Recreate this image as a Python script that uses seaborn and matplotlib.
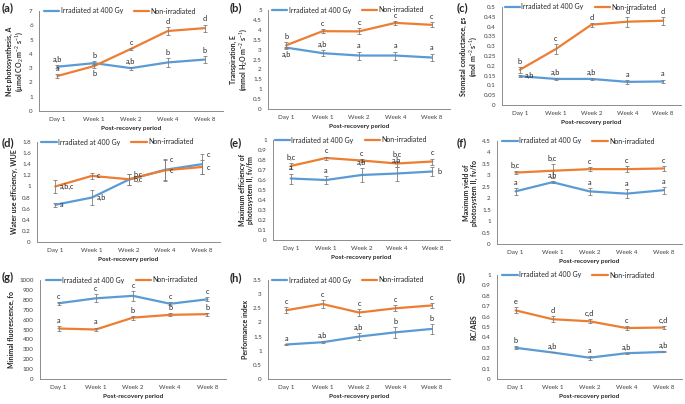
import numpy as np
import pandas as pd
import matplotlib
matplotlib.use("Agg")
import matplotlib.pyplot as plt
import seaborn as sns
from matplotlib.ticker import MultipleLocator, FuncFormatter

periods = ["Day 1", "Week 1", "Week 2", "Week 4", "Week 8"]
series_names = ["Irradiated at 400 Gy", "Non-irradiated"]

# (a) net photosynthesis
a_irr = [3.1, 3.35, 3.0, 3.4, 3.6]
a_irr_err = [0.1, 0.15, 0.1, 0.3, 0.25]
a_non = [2.45, 3.15, 4.35, 5.6, 5.8]
a_non_err = [0.12, 0.15, 0.05, 0.25, 0.25]
a_irr_lab = ["a,b", "b", "a,b", "b", "b"]
a_non_lab = ["a", "b", "c", "d", "d"]

# (b) transpiration
b_irr = [3.1, 2.82, 2.7, 2.7, 2.6]
b_irr_err = [0.05, 0.15, 0.2, 0.2, 0.2]
b_non = [3.22, 3.93, 3.92, 4.35, 4.25]
b_non_err = [0.15, 0.1, 0.15, 0.1, 0.12]
b_irr_lab = ["a,b", "a,b", "a", "a", "a"]
b_non_lab = ["b", "c", "c", "c", "c"]

# (c) stomatal conductance
c_irr = [0.147, 0.133, 0.133, 0.118, 0.12]
c_irr_err = [0.005, 0.005, 0.005, 0.01, 0.01]
c_non = [0.18, 0.285, 0.41, 0.425, 0.43]
c_non_err = [0.015, 0.025, 0.01, 0.025, 0.02]
c_irr_lab = ["a,b", "a,b", "a,b", "a", "a"]
c_non_lab = ["b", "c", "d", "d", "d"]

# (d) water use efficiency
d_irr = [0.67, 0.8, 1.12, 1.3, 1.4]
d_irr_err = [0.04, 0.14, 0.1, 0.18, 0.18]
d_non = [1.0, 1.19, 1.13, 1.29, 1.35]
d_non_err = [0.12, 0.05, 0.1, 0.2, 0.12]
d_irr_lab = ["a", "a,b", "b,c", "c", "c"]
d_non_lab = ["a,b,c", "c", "b,c", "c", "c"]

# (e) fv/fm
e_irr = [0.615, 0.6, 0.65, 0.665, 0.685]
e_irr_err = [0.05, 0.04, 0.07, 0.07, 0.045]
e_non = [0.74, 0.82, 0.795, 0.765, 0.785]
e_non_err = [0.03, 0.015, 0.015, 0.03, 0.03]
e_irr_lab = ["a", "a", "a,b", "a,b", "b"]
e_non_lab = ["b,c", "c", "c", "b,c", "c"]

# (f) fv/fo
f_irr = [2.3, 2.7, 2.3, 2.2, 2.35]
f_irr_err = [0.15, 0.05, 0.15, 0.2, 0.15]
f_non = [3.12, 3.2, 3.27, 3.27, 3.3]
f_non_err = [0.05, 0.3, 0.1, 0.12, 0.12]
f_irr_lab = ["a", "a,b", "a", "a", "a"]
f_non_lab = ["b,c", "b,c", "c", "c", "c"]

# (g) minimal fluorescence
g_irr = [765, 815, 840, 760, 805]
g_irr_err = [15, 40, 50, 15, 20]
g_non = [510, 500, 620, 648, 655]
g_non_err = [25, 20, 20, 15, 15]
g_irr_lab = ["c", "c", "c", "c", "c"]
g_non_lab = ["a", "a", "b", "b", "b"]

# (h) performance index
h_irr = [1.22, 1.3, 1.5, 1.65, 1.77]
h_irr_err = [0.02, 0.03, 0.12, 0.2, 0.17]
h_non = [2.43, 2.65, 2.35, 2.5, 2.6]
h_non_err = [0.1, 0.13, 0.12, 0.1, 0.1]
h_irr_lab = ["a", "a,b", "a,b", "b", "b"]
h_non_lab = ["c", "c", "c", "c", "c"]

# (i) RC/ABS
i_irr = [0.3, 0.255, 0.205, 0.248, 0.26]
i_irr_err = [0.015, 0.0, 0.02, 0.005, 0.005]
i_non = [0.66, 0.575, 0.555, 0.49, 0.495]
i_non_err = [0.03, 0.03, 0.02, 0.015, 0.015]
i_irr_lab = ["b", "a,b", "a", "a,b", "a,b"]
i_non_lab = ["e", "d", "c,d", "c", "c,d"]

BLUE = "#5B9BD5"
ORANGE = "#ED7D31"
W, H = 685, 404
COLS = [0, 228, 455]
ROWS = [0, 135, 270]

# where the letters go: u = above, d = below, r = right, ru = right and higher
panels = [
    dict(tag="(a)", cell=(0, 0), box=(39, 11, 223, 111), ymax=7, step=1,
         ylabel="Net photosynthesis, A\n(µmol CO$_2$ m$^{-2}$ s$^{-1}$)",
         irr=a_irr, irr_err=a_irr_err, non=a_non, non_err=a_non_err,
         irr_lab=a_irr_lab, non_lab=a_non_lab,
         irr_pos=["u"] * 5, non_pos=["u", "d", "u", "u", "u"]),
    dict(tag="(b)", cell=(1, 0), box=(268, 10, 450, 109), ymax=5, step=0.5,
         ylabel="Transpiration, E\n(mmol H$_2$O m$^{-2}$ s$^{-1}$)",
         irr=b_irr, irr_err=b_irr_err, non=b_non, non_err=b_non_err,
         irr_lab=b_irr_lab, non_lab=b_non_lab,
         irr_pos=["d", "u", "u", "u", "u"], non_pos=["u"] * 5),
    dict(tag="(c)", cell=(2, 0), box=(502, 7, 681, 105), ymax=0.5, step=0.05,
         ylabel="Stomatal conductance, gs\n(mol m$^{-2}$ s$^{-1}$)",
         irr=c_irr, irr_err=c_irr_err, non=c_non, non_err=c_non_err,
         irr_lab=c_irr_lab, non_lab=c_non_lab,
         irr_pos=["ru", "u", "u", "u", "u"], non_pos=["u"] * 5),
    dict(tag="(d)", cell=(0, 1), box=(37, 142, 220, 242), ymax=1.8, step=0.2,
         ylabel="Water use efficiency, WUE",
         irr=d_irr, irr_err=d_irr_err, non=d_non, non_err=d_non_err,
         irr_lab=d_irr_lab, non_lab=d_non_lab,
         irr_pos=["r", "r", "ru", "ru", "ru"], non_pos=["r"] * 5),
    dict(tag="(e)", cell=(1, 1), box=(273, 140, 450, 240), ymax=1, step=0.1,
         ylabel="Maximum efficiency of\nphotosystem II, fv/fm",
         irr=e_irr, irr_err=e_irr_err, non=e_non, non_err=e_non_err,
         irr_lab=e_irr_lab, non_lab=e_non_lab,
         irr_pos=["u", "u", "u", "u", "r"], non_pos=["u"] * 5),
    dict(tag="(f)", cell=(2, 1), box=(497, 141, 682, 244), ymax=4.5, step=0.5,
         ylabel="Maximum yield of\nphotosystem II, fv/fo",
         irr=f_irr, irr_err=f_irr_err, non=f_non, non_err=f_non_err,
         irr_lab=f_irr_lab, non_lab=f_non_lab,
         irr_pos=["u"] * 5, non_pos=["u"] * 5),
    dict(tag="(g)", cell=(0, 2), box=(40, 280, 226, 379), ymax=1000, step=100,
         ylabel="Minimal fluorescence, fo",
         irr=g_irr, irr_err=g_irr_err, non=g_non, non_err=g_non_err,
         irr_lab=g_irr_lab, non_lab=g_non_lab,
         irr_pos=["u"] * 5, non_pos=["u"] * 5),
    dict(tag="(h)", cell=(1, 2), box=(268, 280, 450, 379), ymax=3.5, step=0.5,
         ylabel="Performance index",
         irr=h_irr, irr_err=h_irr_err, non=h_non, non_err=h_non_err,
         irr_lab=h_irr_lab, non_lab=h_non_lab,
         irr_pos=["u"] * 5, non_pos=["u"] * 5),
    dict(tag="(i)", cell=(2, 2), box=(497, 275, 682, 379), ymax=1, step=0.1,
         ylabel="RC/ABS",
         irr=i_irr, irr_err=i_irr_err, non=i_non, non_err=i_non_err,
         irr_lab=i_irr_lab, non_lab=i_non_lab,
         irr_pos=["u"] * 5, non_pos=["u"] * 5),
]

sns.set_theme(style="white")
plt.rcParams["font.family"] = ["Lato", "DejaVu Sans"]
plt.rcParams["mathtext.fontset"] = "custom"
plt.rcParams["mathtext.rm"] = "Lato"
plt.rcParams["mathtext.it"] = "Lato:italic"
plt.rcParams["mathtext.bf"] = "Lato:bold"

fig = plt.figure(figsize=(W / 100, H / 100), dpi=100)
fig.patch.set_facecolor("white")

xs = np.arange(len(periods))
LAB_FS = 5.3


def put_letters(ax, vals, errs, labs, where):
    for x, v, e, t, p in zip(xs, vals, errs, labs, where):
        if p == "u":
            ax.annotate(t, (x, v + e), xytext=(0, 1.5), textcoords="offset points",
                        ha="center", va="bottom", fontsize=LAB_FS, color="#262626")
        elif p == "d":
            ax.annotate(t, (x, v - e), xytext=(0, -1.5), textcoords="offset points",
                        ha="center", va="top", fontsize=LAB_FS, color="#262626")
        elif p == "r":
            ax.annotate(t, (x, v), xytext=(3.5, 0), textcoords="offset points",
                        ha="left", va="center", fontsize=LAB_FS, color="#262626")
        else:
            ax.annotate(t, (x, v + e), xytext=(3.5, 0), textcoords="offset points",
                        ha="left", va="center", fontsize=LAB_FS, color="#262626")


for p in panels:
    l, t, r, b = p["box"]
    ax = fig.add_axes([l / W, 1 - b / H, (r - l) / W, (b - t) / H])

    df = pd.DataFrame({
        "pos": np.concatenate([xs, xs]),
        "value": p["irr"] + p["non"],
        "series": [series_names[0]] * 5 + [series_names[1]] * 5,
    })
    sns.lineplot(data=df, x="pos", y="value", hue="series", hue_order=series_names,
                 palette=[BLUE, ORANGE], linewidth=1.6, ax=ax, legend=True)
    ax.errorbar(xs, p["irr"], yerr=p["irr_err"], fmt="none", ecolor="#7f7f7f",
                elinewidth=0.6, capsize=1.6, capthick=0.6, zorder=3)
    ax.errorbar(xs, p["non"], yerr=p["non_err"], fmt="none", ecolor="#7f7f7f",
                elinewidth=0.6, capsize=1.6, capthick=0.6, zorder=3)

    put_letters(ax, p["irr"], p["irr_err"], p["irr_lab"], p["irr_pos"])
    put_letters(ax, p["non"], p["non_err"], p["non_lab"], p["non_pos"])

    ax.set_xlim(-0.5, 4.5)
    ax.set_ylim(0, p["ymax"])
    ax.yaxis.set_major_locator(MultipleLocator(p["step"]))
    ax.yaxis.set_major_formatter(FuncFormatter(lambda v, pos: f"{round(v, 3):g}"))
    ax.set_xticks(xs)
    ax.set_xticklabels(periods)
    ax.tick_params(axis="both", labelsize=4.5, colors="#404040", length=2.5, width=0.6,
                   pad=2, direction="out")
    ax.tick_params(axis="x", length=0, pad=4)
    for s in ["top", "right"]:
        ax.spines[s].set_visible(False)
    for s in ["left", "bottom"]:
        ax.spines[s].set_color("#8c8c8c")
        ax.spines[s].set_linewidth(0.7)

    ax.set_xlabel("Post-recovery period", fontsize=4.6, fontweight="bold", labelpad=3.5)
    ax.set_ylabel(p["ylabel"], fontsize=5, fontweight="bold", labelpad=3,
                  linespacing=1.1)

    sns.move_legend(ax, "center", bbox_to_anchor=(0.44, 1.0), ncol=2, frameon=False,
                    title=None, fontsize=5, handlelength=2.2, columnspacing=1.6,
                    handletextpad=0.2, borderaxespad=0)

    cx, cy = p["cell"]
    fig.text((COLS[cx] + 2) / W, 1 - (ROWS[cy] + 2) / H, p["tag"], fontsize=8,
             fontweight="bold", ha="left", va="top")

fig.savefig("out.png", dpi=100, facecolor="white")
